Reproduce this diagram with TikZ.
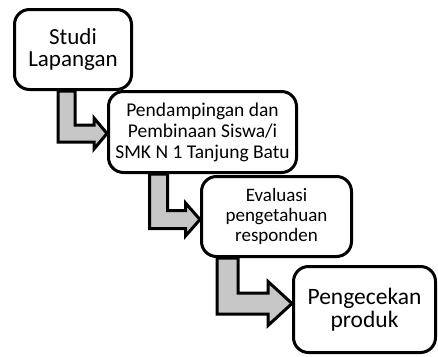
\documentclass[tikz,border=0pt]{standalone}
\usepackage{fontspec}
\setmainfont{Carlito}
\usetikzlibrary{calc}

% bent arrow: #1 top left of shaft, #2 tip, #3 shaft width, #4 half head, #5 head length
\newcommand{\bentarrow}[5]{%
  \draw[flow] let \p1 = (#1), \p2 = (#2) in
    (\x1,\y1) -- (\x1,{\y2-#3pt/2}) -- ({\x2-#5pt},{\y2-#3pt/2}) -- ({\x2-#5pt},{\y2-#4pt})
    -- (\x2,\y2) -- ({\x2-#5pt},{\y2+#4pt}) -- ({\x2-#5pt},{\y2+#3pt/2})
    -- ({\x1+#3pt},{\y2+#3pt/2}) -- ({\x1+#3pt},\y1) -- cycle;
}

\begin{document}
\begin{tikzpicture}[x=1pt,y=-1pt,
    stage/.style={draw=black,fill=white,line width=3pt,rounded corners=15pt,align=center,inner sep=2pt},
    flow/.style={draw=black,fill=black!22,line width=3pt,line join=miter}]
        \useasboundingbox (0,0) rectangle (438,356);
        \node[stage,minimum width=117pt,minimum height=80pt,font=\fontsize{23}{22}\selectfont] (studi) at (73,49.5) {Studi\\Lapangan};
        \node[stage,minimum width=188pt,minimum height=81pt,font=\fontsize{19.5}{21}\selectfont] (bina) at (202.5,132) {Pendampingan dan\\Pembinaan Siswa/i\\SMK N 1 Tanjung Batu};
        \node[stage,minimum width=150pt,minimum height=80pt,font=\fontsize{19}{20}\selectfont] (eval) at (276.5,216.5) {Evaluasi\\pengetahuan\\responden};
        \node[stage,minimum width=142pt,minimum height=86pt,font=\fontsize{23.5}{23}\selectfont] (cek) at (364.5,309.5) {Pengecekan\\produk};
        \bentarrow{$(studi.south west)+(45,0)$}{$(bina.west)+(0,1.5)$}{17}{15.5}{13}
        \bentarrow{$(bina.south west)+(42.5,0)$}{$(eval.west)+(0,3)$}{18}{16.5}{14.5}
        \bentarrow{$(eval.south west)+(17,0)$}{$(cek.west)+(0,-6)$}{21}{22}{24}
    \end{tikzpicture}
\end{document}
